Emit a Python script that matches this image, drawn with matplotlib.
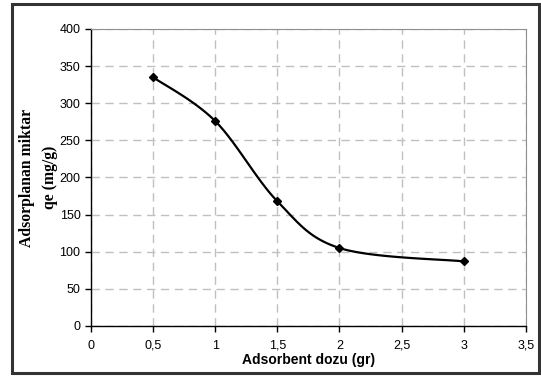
import numpy as np
import matplotlib.pyplot as plt
from matplotlib.patches import Rectangle
from matplotlib.ticker import FuncFormatter

doz = [0.5, 1.0, 1.5, 2.0, 3.0]
qe = [335, 276, 168, 105, 87]

xticks = [0, 0.5, 1, 1.5, 2, 2.5, 3, 3.5]
yticks = [0, 50, 100, 150, 200, 250, 300, 350, 400]


def smooth(x, y, n=30):
    # excel-like smoothed line (catmull-rom style bezier)
    x = np.asarray(x, float)
    y = np.asarray(y, float)
    px = np.concatenate([[x[0]], x, [x[-1]]])
    py = np.concatenate([[y[0]], y, [y[-1]]])
    xs, ys = [], []
    t = np.linspace(0, 1, n)
    for i in range(1, len(px) - 2):
        p0 = np.array([px[i], py[i]])
        p3 = np.array([px[i + 1], py[i + 1]])
        p1 = p0 + (np.array([px[i + 1], py[i + 1]]) - np.array([px[i - 1], py[i - 1]])) / 6
        p2 = p3 - (np.array([px[i + 2], py[i + 2]]) - np.array([px[i], py[i]])) / 6
        b = ((1 - t) ** 3)[:, None] * p0 + (3 * (1 - t) ** 2 * t)[:, None] * p1 \
            + (3 * (1 - t) * t ** 2)[:, None] * p2 + (t ** 3)[:, None] * p3
        xs.extend(b[:, 0])
        ys.extend(b[:, 1])
    return xs, ys


fig = plt.figure(figsize=(5.41, 3.76), dpi=100)
ax = fig.add_axes([0.168, 0.133, 0.804, 0.790])

sx, sy = smooth(doz, qe)
ax.plot(sx, sy, color='black', linewidth=1.6)
ax.plot(doz, qe, linestyle='none', marker='D', markersize=4, color='black')

ax.set_xlim(0, 3.5)
ax.set_ylim(0, 400)
ax.set_xticks(xticks)
ax.set_yticks(yticks)
fmt = FuncFormatter(lambda v, p: ('%g' % v).replace('.', ','))
ax.xaxis.set_major_formatter(fmt)
ax.grid(True, color='#c0c0c0', linestyle=(0, (6, 4)), linewidth=1)
ax.set_axisbelow(True)

for s in ['top', 'right']:
    ax.spines[s].set_color('#909090')
    ax.spines[s].set_linewidth(0.8)
for s in ['bottom', 'left']:
    ax.spines[s].set_color('black')
    ax.spines[s].set_linewidth(1.0)

ax.tick_params(axis='both', direction='out', length=4, width=1, labelsize=9)
for lab in ax.get_xticklabels() + ax.get_yticklabels():
    lab.set_family('Liberation Sans')
ax.tick_params(axis='y', pad=3.5)
ax.tick_params(axis='x', pad=6)

ax.set_xlabel('Adsorbent dozu (gr)', family='Liberation Sans',
              fontweight='bold', fontsize=10, labelpad=1)
ax.set_ylabel('Adsorplanan miktar\nqe (mg/g)', family='Liberation Serif',
              fontweight='bold', fontsize=11.3, labelpad=1, linespacing=1.55)

fig.patches.append(Rectangle((12 / 541, 3 / 376), 527 / 541, 369 / 376,
                             transform=fig.transFigure, fill=False,
                             edgecolor='#333333', linewidth=2.2))

plt.savefig('out.png', dpi=100)
